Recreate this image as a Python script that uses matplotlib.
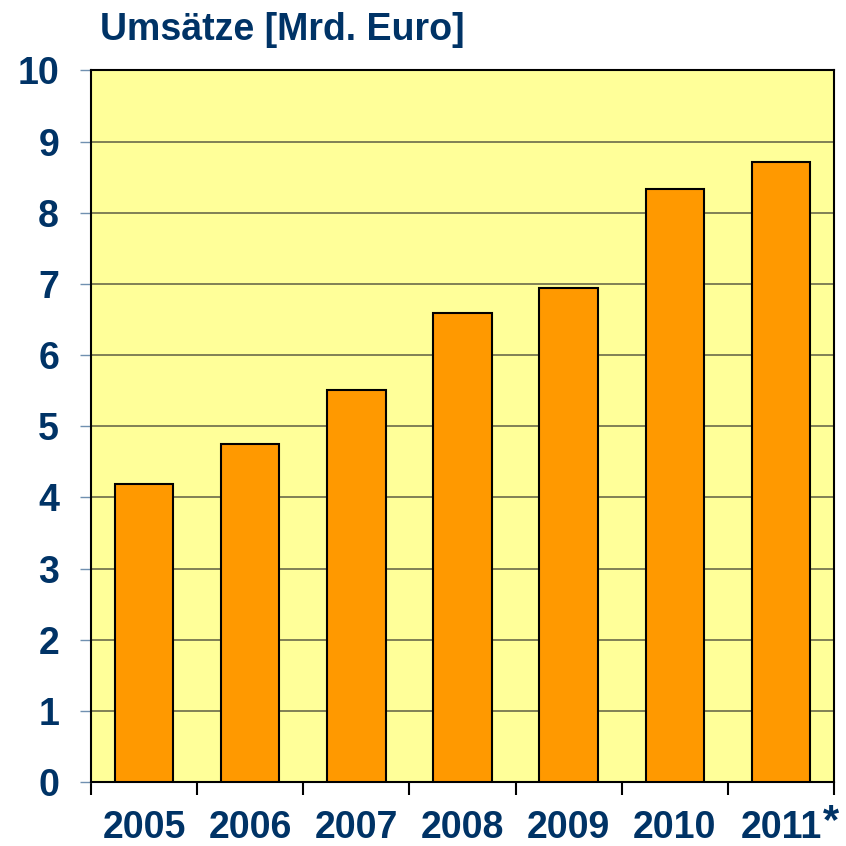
import matplotlib.pyplot as plt
import numpy as np

# Umsätze in Mrd. Euro, 2005 - 2011 (2011 geschätzt)
jahre = ["2005", "2006", "2007", "2008", "2009", "2010", "2011"]
umsatz = [4.19, 4.75, 5.51, 6.59, 6.94, 8.34, 8.72]
yticks = list(range(0, 11))

navy = "#003366"
plt.rcParams['font.family'] = ['Liberation Sans', 'DejaVu Sans']

fig = plt.figure(figsize=(8.46, 8.46), dpi=100)
ax = fig.add_axes([91/846, 1 - 782/846, (834-91)/846, (782-70.5)/846])

x = np.arange(len(jahre))
ax.set_facecolor("#FFFF99")
ax.bar(x, umsatz, width=0.55, color="#FF9900", edgecolor="black", linewidth=1.5, zorder=3)

ax.set_xlim(-0.5, len(jahre) - 0.5)
ax.set_ylim(0, 10)
ax.set_yticks(yticks)
ax.set_yticklabels([str(t) for t in yticks], fontsize=27, fontweight="bold", color=navy)
ax.yaxis.grid(True, color="#6b6b4a", linewidth=1.2, zorder=0)
ax.tick_params(axis="y", length=8, width=1, color="#7090b0", pad=15)

# x-Ticks an den Kategoriegrenzen, Beschriftung in der Mitte
ax.set_xticks(np.arange(len(jahre) + 1) - 0.5)
ax.set_xticklabels([])
ax.set_xticks(x, minor=True)
ax.set_xticklabels(jahre, minor=True, fontsize=27, fontweight="bold", color=navy)
ax.tick_params(axis="x", which="major", length=9, width=1.5, color="black")
ax.tick_params(axis="x", which="minor", length=0, pad=20)

for s in ax.spines.values():
    s.set_linewidth(1.5)
    s.set_color("black")

# Sternchen fuer 2011
ax.text(6.475, -0.056, "*", fontsize=30, fontweight="bold", color=navy,
        ha="center", va="center", transform=ax.get_xaxis_transform())

fig.text(100/846, 1 - 30/846, "Umsätze [Mrd. Euro]", fontsize=27, fontweight="bold",
         color=navy, ha="left", va="center")

fig.savefig("out.png", dpi=100)
